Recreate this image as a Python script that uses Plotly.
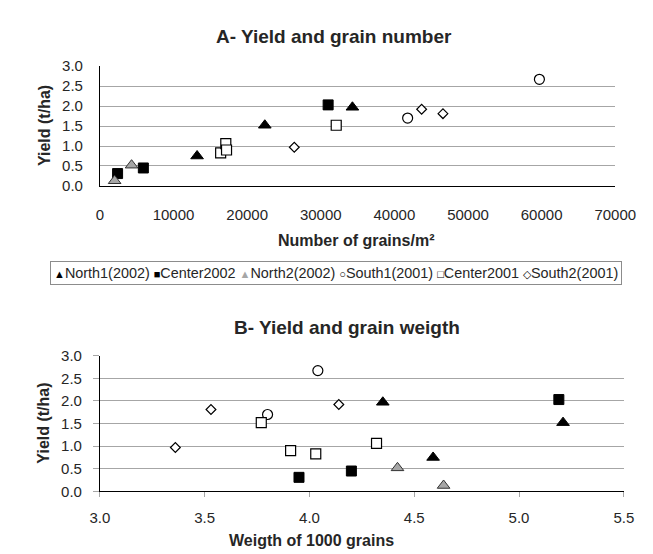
import plotly.graph_objects as go

# ---- data ----
series_names = ["North1(2002)", "Center2002", "North2(2002)", "South1(2001)", "Center2001", "South2(2001)"]

north1_yield = [0.75, 1.52, 1.97]
north1_grains = [13200, 22400, 34300]
north1_weight = [4.59, 5.21, 4.35]

center02_yield = [0.31, 0.45, 2.03]
center02_grains = [2400, 5900, 31000]
center02_weight = [3.95, 4.20, 5.19]

north2_yield = [0.13, 0.52]
north2_grains = [2000, 4300]
north2_weight = [4.64, 4.42]

south1_yield = [1.70, 2.67]
south1_grains = [41800, 59700]
south1_weight = [3.80, 4.04]

center01_yield = [0.83, 1.06, 0.90, 1.52]
center01_grains = [16400, 17100, 17200, 32100]
center01_weight = [4.03, 4.32, 3.91, 3.77]

south2_yield = [0.97, 1.92, 1.81]
south2_grains = [26400, 43700, 46600]
south2_weight = [3.36, 4.14, 3.53]

yield_ticks = [0.0, 0.5, 1.0, 1.5, 2.0, 2.5, 3.0]
grain_ticks = [0, 10000, 20000, 30000, 40000, 50000, 60000, 70000]
weight_ticks = [3.0, 3.5, 4.0, 4.5, 5.0, 5.5]

# ---- styles ----
styles = [
    dict(symbol="triangle-up", color="black", line=dict(color="black", width=1), size=11),
    dict(symbol="square", color="black", line=dict(color="black", width=1), size=10),
    dict(symbol="triangle-up", color="#a6a6a6", line=dict(color="#333333", width=1), size=11),
    dict(symbol="circle", color="white", line=dict(color="black", width=1.2), size=10),
    dict(symbol="square", color="white", line=dict(color="black", width=1.2), size=10),
    dict(symbol="diamond", color="white", line=dict(color="black", width=1.2), size=7.5),
]
legend_glyphs = [
    ("▲", "black"), ("■", "black"), ("▲", "#a6a6a6"),
    ("○", "black"), ("□", "black"), ("◇", "black"),
]

data = [
    (north1_grains, north1_weight, north1_yield),
    (center02_grains, center02_weight, center02_yield),
    (north2_grains, north2_weight, north2_yield),
    (south1_grains, south1_weight, south1_yield),
    (center01_grains, center01_weight, center01_yield),
    (south2_grains, south2_weight, south2_yield),
]

FONT = "Liberation Sans, Arial, sans-serif"
TXT = "#262626"
fig = go.Figure()
for name, st, (g, w, y) in zip(series_names, styles, data):
    fig.add_trace(go.Scatter(x=g, y=y, mode="markers", name=name, legendgroup=name,
                             marker=st, xaxis="x", yaxis="y", showlegend=False))
    fig.add_trace(go.Scatter(x=w, y=y, mode="markers", name=name, legendgroup=name,
                             marker=st, xaxis="x2", yaxis="y2", showlegend=False))

W, H = 653, 554
def px(v):
    return v / W
def py(v):
    return 1 - v / H

tickfont = dict(family=FONT, size=15, color=TXT)
grid = "#a6a6a6"

fig.update_layout(
    width=W, height=H,
    margin=dict(l=0, r=0, t=0, b=0),
    paper_bgcolor="white", plot_bgcolor="white",
    font=dict(family=FONT, color=TXT),
    showlegend=False,
    xaxis=dict(domain=[px(86), px(627)], range=[0, 70000], tickvals=grain_ticks,
               ticktext=[str(v) for v in grain_ticks], showgrid=False, zeroline=False,
               showline=True, linecolor="black", linewidth=1, tickfont=tickfont,
               ticks="", ticklabelstandoff=15, anchor="y"),
    yaxis=dict(domain=[py(174.3), py(50.7)], range=[0, 3.0], tickvals=yield_ticks,
               ticktext=[f"{v:.1f}" for v in yield_ticks], showgrid=True, gridcolor=grid,
               gridwidth=1, zeroline=False, showline=True, linecolor="black", linewidth=1,
               tickfont=tickfont, ticks="", ticklabelstandoff=13, anchor="x"),
    xaxis2=dict(domain=[px(86), px(636)], range=[3.0, 5.5], tickvals=weight_ticks,
                ticktext=[f"{v:.1f}" for v in weight_ticks], showgrid=False, zeroline=False,
                showline=True, linecolor="black", linewidth=1, tickfont=tickfont,
                ticks="outside", ticklen=5, tickcolor=grid, ticklabelstandoff=8, anchor="y2"),
    yaxis2=dict(domain=[py(489.4), py(349.4)], range=[0, 3.0], tickvals=yield_ticks,
                ticktext=[f"{v:.1f}" for v in yield_ticks], showgrid=True, gridcolor=grid,
                gridwidth=1, zeroline=False, showline=True, linecolor="black", linewidth=1,
                tickfont=tickfont, ticks="outside", ticklen=6, tickcolor=grid,
                ticklabelstandoff=8, anchor="x2"),
)

ann = [
    dict(text="<b>A- Yield and grain number</b>", x=332, y=20, size=19),
    dict(text="<b>Number of grains/m²</b>", x=355, y=231, size=16),
    dict(text="<b>B- Yield and grain weigth</b>", x=345, y=320, size=19),
    dict(text="<b>Weigth of 1000 grains</b>", x=308, y=540.5, size=16),
]
for a in ann:
    fig.add_annotation(text=a["text"], x=px(a["x"]), y=py(a["y"]), xref="paper", yref="paper",
                       showarrow=False, xanchor="center", yanchor="middle",
                       font=dict(family=FONT, size=a["size"], color=TXT))
for yc in (112.5, 419.5):
    fig.add_annotation(text="<b>Yield (t/ha)</b>", x=px(27.3), y=py(yc), xref="paper", yref="paper",
                       showarrow=False, textangle=-90, xanchor="center", yanchor="middle",
                       font=dict(family=FONT, size=16, color=TXT))

# legend row (text with symbol glyphs), boxed like the reference
parts = []
for (glyph, col), name in zip(legend_glyphs, series_names):
    parts.append(f'<span style="font-size:11px;color:{col}">{glyph}</span>{name}')
legend_text = " ".join(parts)
fig.add_annotation(text=legend_text, x=px(334), y=py(264.5), xref="paper", yref="paper",
                   showarrow=False, xanchor="center", yanchor="middle",
                   font=dict(family=FONT, size=14.4, color=TXT),
                   bordercolor="#8c8c8c", borderwidth=1, borderpad=3, bgcolor="white")

fig.write_html("out.html")
